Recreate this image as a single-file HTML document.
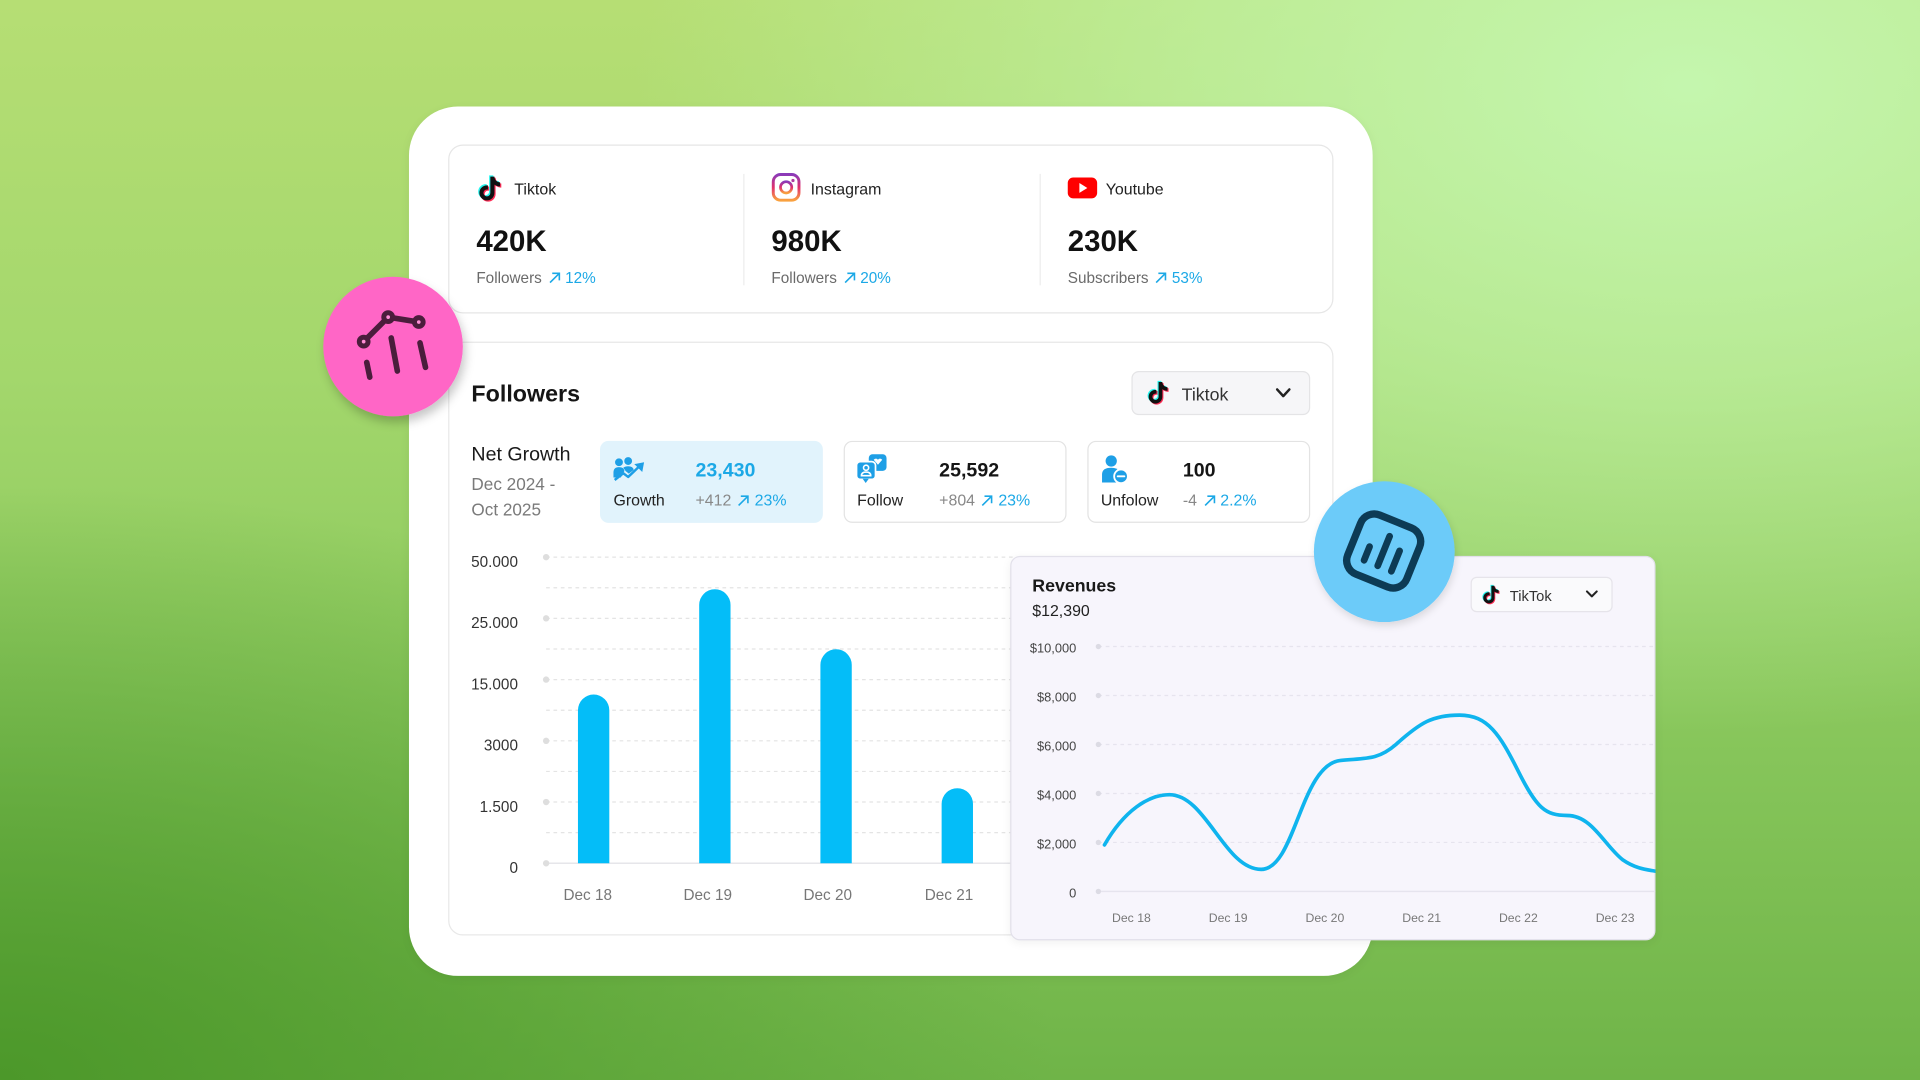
<!DOCTYPE html>
<html><head><meta charset="utf-8">
<style>
html,body{margin:0;padding:0;width:1920px;height:1080px;overflow:hidden}
body{background:
 radial-gradient(ellipse 55% 60% at 88% 8%, rgba(196,246,174,1) 0%, rgba(196,246,174,0.6) 45%, rgba(196,246,174,0) 100%),
 radial-gradient(ellipse 55% 55% at 0% 100%, rgba(76,152,42,1) 0%, rgba(76,152,42,0.5) 50%, rgba(76,152,42,0) 100%),
 linear-gradient(180deg,#b6de74 0%,#a3d76c 35%,#86c55a 70%,#6fb448 100%);}
#s{position:absolute;left:0;top:0;width:1568px;height:882px;transform:scale(1.2244898);transform-origin:0 0;font-family:"Liberation Sans","DejaVu Sans",sans-serif;}
.a{position:absolute;box-sizing:border-box}
.t{position:absolute;white-space:nowrap;line-height:20px;height:20px;margin-top:1.5px}
.g{color:#6a6a6a}
.b{color:#1ba8e6}
.ar{display:inline-block;vertical-align:-1px;margin:0 4px 0 5px}
svg.l{position:absolute;left:0;top:0;overflow:visible}
</style></head><body><div id="s">

<!-- outer card -->
<div class="a" style="left:334px;top:87px;width:787px;height:710px;background:#fff;border-radius:40px;box-shadow:0 2px 8px rgba(0,0,0,.05)"></div>

<!-- stats card -->
<div class="a" style="left:366px;top:118px;width:723px;height:138px;border:1px solid #e6e6e6;border-radius:12px;background:#fff"></div>
<div class="a" style="left:607px;top:142px;width:1px;height:91px;background:#ececec"></div>
<div class="a" style="left:849px;top:142px;width:1px;height:91px;background:#ececec"></div>

<svg class="l" width="1568" height="882" viewBox="0 0 1568 882">
 <g transform="translate(387,141) scale(1.08)">
  <path transform="translate(-0.9,-0.9)" fill="#25f4ee" d="M16.6 5.82s.51.5 0 0A4.28 4.28 0 0 1 15.54 3h-3.09v12.4a2.59 2.59 0 0 1-2.59 2.5c-1.42 0-2.6-1.16-2.6-2.6 0-1.72 1.66-3.01 3.37-2.48V9.66c-3.45-.46-6.47 2.22-6.47 5.64 0 3.330 2.76 5.7 5.69 5.7 3.14 0 5.69-2.55 5.69-5.7V9.01a7.35 7.35 0 0 0 4.3 1.38V7.3s-1.88.09-3.24-1.48z"/>
  <path transform="translate(0.9,0.9)" fill="#fe2c55" d="M16.6 5.82s.51.5 0 0A4.28 4.28 0 0 1 15.54 3h-3.09v12.4a2.59 2.59 0 0 1-2.59 2.5c-1.42 0-2.6-1.16-2.6-2.6 0-1.72 1.66-3.01 3.37-2.48V9.66c-3.45-.46-6.47 2.22-6.47 5.64 0 3.33 2.76 5.7 5.69 5.7 3.14 0 5.69-2.55 5.69-5.7V9.01a7.35 7.35 0 0 0 4.3 1.38V7.3s-1.88.09-3.24-1.48z"/>
  <path fill="#111" d="M16.6 5.82s.51.5 0 0A4.28 4.28 0 0 1 15.54 3h-3.09v12.4a2.59 2.59 0 0 1-2.59 2.5c-1.42 0-2.6-1.16-2.6-2.6 0-1.72 1.66-3.01 3.37-2.48V9.66c-3.45-.46-6.47 2.22-6.47 5.64 0 3.33 2.76 5.7 5.69 5.7 3.14 0 5.69-2.55 5.69-5.7V9.01a7.35 7.35 0 0 0 4.3 1.38V7.3s-1.88.09-3.24-1.48z"/>
 </g>
 <defs><linearGradient id="ig" x1="0" y1="0" x2="0" y2="1"><stop offset="0" stop-color="#8a3ab9"/><stop offset="0.5" stop-color="#e1306c"/><stop offset="1" stop-color="#f9a13f"/></linearGradient></defs>
 <rect x="631.5" y="142.5" width="21" height="21" rx="6" fill="none" stroke="url(#ig)" stroke-width="2.4"/>
 <circle cx="642" cy="153" r="4.6" fill="none" stroke="url(#ig)" stroke-width="2.2"/>
 <circle cx="647.6" cy="147.4" r="1.3" fill="#b03aa0"/>
 <rect x="872" y="145" width="24" height="17" rx="4.5" fill="#ff0000"/>
 <path d="M881.5 149.5 L888 153.5 L881.5 157.5 Z" fill="#fff"/>
</svg>

<div class="t" style="left:420px;top:143px;font-size:13px;color:#222">Tiktok</div>
<div class="t" style="left:662px;top:143px;font-size:13px;color:#222">Instagram</div>
<div class="t" style="left:903px;top:143px;font-size:13px;color:#222">Youtube</div>
<div class="t" style="left:389px;top:186px;font-size:24px;font-weight:bold;color:#111">420K</div>
<div class="t" style="left:630px;top:186px;font-size:24px;font-weight:bold;color:#111">980K</div>
<div class="t" style="left:872px;top:186px;font-size:24px;font-weight:bold;color:#111">230K</div>
<div class="t g" style="left:389px;top:215px;font-size:12.5px">Followers<svg class="ar" width="10" height="10" viewBox="0 0 10 10"><path d="M1.2 8.8 L8.6 1.4 M3 1.2 H8.8 V7" stroke="#1ba8e6" stroke-width="1.3" fill="none"/></svg><span class="b">12%</span></div>
<div class="t g" style="left:630px;top:215px;font-size:12.5px">Followers<svg class="ar" width="10" height="10" viewBox="0 0 10 10"><path d="M1.2 8.8 L8.6 1.4 M3 1.2 H8.8 V7" stroke="#1ba8e6" stroke-width="1.3" fill="none"/></svg><span class="b">20%</span></div>
<div class="t g" style="left:872px;top:215px;font-size:12.5px">Subscribers<svg class="ar" width="10" height="10" viewBox="0 0 10 10"><path d="M1.2 8.8 L8.6 1.4 M3 1.2 H8.8 V7" stroke="#1ba8e6" stroke-width="1.3" fill="none"/></svg><span class="b">53%</span></div>

<!-- followers card -->
<div class="a" style="left:366px;top:279px;width:723px;height:485px;border:1px solid #e8e8e8;border-radius:12px;background:#fff"></div>
<div class="t" style="left:385px;top:311px;font-size:19px;font-weight:bold;color:#151515">Followers</div>
<div class="a" style="left:924px;top:303px;width:146px;height:36px;background:#f6f6f8;border:1px solid #e4e4e6;border-radius:6px"></div>
<div class="t" style="left:965px;top:311px;font-size:14.5px;color:#333">Tiktok</div>

<div class="t" style="left:385px;top:360px;font-size:16px;color:#1a1a1a">Net Growth</div>
<div class="t" style="left:385px;top:383px;font-size:14px;color:#7a7a7a">Dec 2024 -</div>
<div class="t" style="left:385px;top:404px;font-size:14px;color:#7a7a7a">Oct 2025</div>

<div class="a" style="left:490px;top:360px;width:182px;height:67px;background:#e1f3fc;border-radius:7px"></div>
<div class="a" style="left:689px;top:360px;width:182px;height:67px;border:1px solid #e3e3e3;border-radius:7px;background:#fff"></div>
<div class="a" style="left:888px;top:360px;width:182px;height:67px;border:1px solid #e3e3e3;border-radius:7px;background:#fff"></div>

<div class="t" style="left:568px;top:373px;font-size:16px;font-weight:bold;color:#1ba8e6">23,430</div>
<div class="t" style="left:767px;top:373px;font-size:16px;font-weight:bold;color:#151515">25,592</div>
<div class="t" style="left:966px;top:373px;font-size:16px;font-weight:bold;color:#151515">100</div>
<div class="t" style="left:501px;top:397px;font-size:13px;color:#222">Growth</div>
<div class="t" style="left:700px;top:397px;font-size:13px;color:#222">Follow</div>
<div class="t" style="left:899px;top:397px;font-size:13px;color:#222">Unfolow</div>
<div class="t" style="left:568px;top:397px;font-size:13px;color:#888">+412<svg class="ar" width="10" height="10" viewBox="0 0 10 10"><path d="M1.2 8.8 L8.6 1.4 M3 1.2 H8.8 V7" stroke="#1ba8e6" stroke-width="1.3" fill="none"/></svg><span class="b">23%</span></div>
<div class="t" style="left:767px;top:397px;font-size:13px;color:#888">+804<svg class="ar" width="10" height="10" viewBox="0 0 10 10"><path d="M1.2 8.8 L8.6 1.4 M3 1.2 H8.8 V7" stroke="#1ba8e6" stroke-width="1.3" fill="none"/></svg><span class="b">23%</span></div>
<div class="t" style="left:966px;top:397px;font-size:13px;color:#888">-4<svg class="ar" width="10" height="10" viewBox="0 0 10 10"><path d="M1.2 8.8 L8.6 1.4 M3 1.2 H8.8 V7" stroke="#1ba8e6" stroke-width="1.3" fill="none"/></svg><span class="b">2.2%</span></div>

<!-- bar chart labels -->
<div class="t" style="left:363px;width:60px;text-align:right;top:447px;font-size:12.5px;color:#333">50.000</div>
<div class="t" style="left:363px;width:60px;text-align:right;top:497px;font-size:12.5px;color:#333">25.000</div>
<div class="t" style="left:363px;width:60px;text-align:right;top:547px;font-size:12.5px;color:#333">15.000</div>
<div class="t" style="left:363px;width:60px;text-align:right;top:597px;font-size:12.5px;color:#333">3000</div>
<div class="t" style="left:363px;width:60px;text-align:right;top:647px;font-size:12.5px;color:#333">1.500</div>
<div class="t" style="left:363px;width:60px;text-align:right;top:697px;font-size:12.5px;color:#333">0</div>
<div class="t" style="left:450px;width:60px;text-align:center;top:719px;font-size:12.5px;color:#777">Dec 18</div>
<div class="t" style="left:548px;width:60px;text-align:center;top:719px;font-size:12.5px;color:#777">Dec 19</div>
<div class="t" style="left:646px;width:60px;text-align:center;top:719px;font-size:12.5px;color:#777">Dec 20</div>
<div class="t" style="left:745px;width:60px;text-align:center;top:719px;font-size:12.5px;color:#777">Dec 21</div>

<svg class="l" width="1568" height="882" viewBox="0 0 1568 882">
 <g transform="translate(934,309) scale(0.98)">
  <path transform="translate(-0.9,-0.9)" fill="#25f4ee" d="M16.6 5.82s.51.5 0 0A4.28 4.28 0 0 1 15.54 3h-3.09v12.4a2.59 2.59 0 0 1-2.59 2.5c-1.42 0-2.6-1.16-2.6-2.6 0-1.72 1.66-3.01 3.37-2.48V9.66c-3.45-.46-6.47 2.22-6.47 5.64 0 3.33 2.76 5.7 5.69 5.7 3.14 0 5.69-2.55 5.69-5.7V9.01a7.35 7.35 0 0 0 4.3 1.38V7.3s-1.88.09-3.24-1.48z"/>
  <path transform="translate(0.9,0.9)" fill="#fe2c55" d="M16.6 5.82s.51.5 0 0A4.28 4.28 0 0 1 15.54 3h-3.09v12.4a2.59 2.59 0 0 1-2.59 2.5c-1.42 0-2.6-1.16-2.6-2.6 0-1.72 1.66-3.01 3.37-2.48V9.66c-3.45-.46-6.47 2.22-6.47 5.64 0 3.33 2.76 5.7 5.69 5.7 3.14 0 5.69-2.55 5.69-5.7V9.01a7.35 7.35 0 0 0 4.3 1.38V7.3s-1.88.09-3.24-1.48z"/>
  <path fill="#111" d="M16.6 5.82s.51.5 0 0A4.28 4.28 0 0 1 15.54 3h-3.09v12.4a2.59 2.59 0 0 1-2.59 2.5c-1.42 0-2.6-1.16-2.6-2.6 0-1.72 1.66-3.01 3.37-2.48V9.66c-3.45-.46-6.47 2.22-6.47 5.64 0 3.33 2.76 5.7 5.69 5.7 3.14 0 5.69-2.55 5.69-5.7V9.01a7.35 7.35 0 0 0 4.3 1.38V7.3s-1.88.09-3.24-1.48z"/>
 </g>
 <polyline points="1043,318 1048,323.5 1053,318" fill="none" stroke="#222" stroke-width="2" stroke-linecap="round" stroke-linejoin="round"/>

 <!-- growth icon -->
 <g fill="#1e9fe6">
  <circle cx="505.5" cy="377.5" r="3.2"/>
  <circle cx="513" cy="376.5" r="3.2"/>
  <path d="M501 390 v-4 q0-4.5 4.5-4.5 q4 0 4.5 3 l-3 5.5 z"/>
  <path d="M509 382 q1.5-1.2 4-1.2 q4 0 4.5 3 l-4 3 -2.5-2 z"/>
  <polyline points="502,392 509,386.5 513,389.5 522,381" fill="none" stroke="#1e9fe6" stroke-width="2" stroke-linejoin="round"/>
  <path d="M518 379 L526 377.5 L524.5 385.5 Z"/>
 </g>
 <!-- follow icon -->
 <g>
  <rect x="709.5" y="371" width="14.5" height="13.5" rx="3" fill="#1e9fe6"/>
  <path d="M713.5 375.5 q2 -2 3.5 0 q1.5 -2 3.5 0 l-3.5 4 z" fill="#fff"/>
  <rect x="699.5" y="377" width="15.5" height="14.5" rx="3" fill="#1e9fe6" stroke="#fff" stroke-width="1.4"/>
  <path d="M704.5 391 L709.5 391 L707 394.5 Z" fill="#1e9fe6"/>
  <circle cx="707.3" cy="382" r="2.1" fill="none" stroke="#fff" stroke-width="1.3"/>
  <path d="M703.5 388.5 q0-3 3.8-3 q3.8 0 3.8 3 z" fill="none" stroke="#fff" stroke-width="1.3"/>
 </g>
 <!-- unfollow icon -->
 <g fill="#1e9fe6">
  <circle cx="907.5" cy="376.5" r="4.6"/>
  <path d="M900 394 v-6.5 q0-5.5 7.5-5.5 q5 0 6.5 3 v9 z"/>
  <circle cx="915.5" cy="389" r="5.6" stroke="#fff" stroke-width="1.5"/>
  <line x1="912.8" y1="389" x2="918.2" y2="389" stroke="#fff" stroke-width="1.6" stroke-linecap="round"/>
 </g>

 <!-- bar chart grid -->
 <g stroke="#e4e4e4" stroke-width="1" stroke-dasharray="3 3">
  <line x1="446" y1="455" x2="1075" y2="455"/>
  <line x1="446" y1="480" x2="1075" y2="480"/>
  <line x1="446" y1="505" x2="1075" y2="505"/>
  <line x1="446" y1="530" x2="1075" y2="530"/>
  <line x1="446" y1="555" x2="1075" y2="555"/>
  <line x1="446" y1="580" x2="1075" y2="580"/>
  <line x1="446" y1="605" x2="1075" y2="605"/>
  <line x1="446" y1="630" x2="1075" y2="630"/>
  <line x1="446" y1="655" x2="1075" y2="655"/>
  <line x1="446" y1="680" x2="1075" y2="680"/>
 </g>
 <line x1="446" y1="705" x2="1075" y2="705" stroke="#e6e6ea" stroke-width="1.2"/>
 <g fill="#dedede">
  <circle cx="446" cy="455" r="2.6"/><circle cx="446" cy="505" r="2.6"/><circle cx="446" cy="555" r="2.6"/>
  <circle cx="446" cy="605" r="2.6"/><circle cx="446" cy="655" r="2.6"/><circle cx="446" cy="705" r="2.6"/>
 </g>
 <g fill="#04bdf8">
  <path d="M472 705 V580 A12.8 12.8 0 0 1 497.6 580 V705 Z"/>
  <path d="M571 705 V494 A12.8 12.8 0 0 1 596.6 494 V705 Z"/>
  <path d="M670 705 V543 A12.8 12.8 0 0 1 695.6 543 V705 Z"/>
  <path d="M769 705 V656.5 A12.8 12.8 0 0 1 794.6 656.5 V705 Z"/>
 </g>

 <!-- pink circle -->
 <defs><filter id="sh" x="-30%" y="-30%" width="160%" height="160%"><feDropShadow dx="2" dy="5" stdDeviation="4" flood-color="#000" flood-opacity="0.22"/></filter>
 <filter id="sh2" x="-30%" y="-30%" width="160%" height="160%"><feDropShadow dx="1" dy="3" stdDeviation="3" flood-color="#000" flood-opacity="0.12"/></filter></defs>
 <circle cx="321" cy="283" r="57" fill="#ff66c6" filter="url(#sh)"/>
 <g stroke="#4b1d3c" stroke-width="4.6" stroke-linecap="round" fill="none">
  <line x1="297" y1="279" x2="317" y2="259"/>
  <line x1="317" y1="259" x2="342" y2="263"/>
  <line x1="299.5" y1="296" x2="302" y2="308"/>
  <line x1="319.5" y1="276" x2="324.5" y2="303"/>
  <line x1="343" y1="280" x2="347.5" y2="300"/>
 </g>
 <g fill="#4b1d3c">
  <circle cx="297" cy="279" r="5.6"/><circle cx="317" cy="259" r="5.6"/><circle cx="342" cy="263" r="5.6"/>
 </g>
 <g fill="#ff8fd6">
  <circle cx="297" cy="279" r="1.5"/><circle cx="317" cy="259" r="1.5"/><circle cx="342" cy="263" r="1.5"/>
 </g>
</svg>

<!-- revenue card -->
<div class="a" style="left:825px;top:454px;width:527px;height:314px;background:#f7f5fc;border:1px solid #e2e0ea;border-radius:8px;box-shadow:0 2px 8px rgba(0,0,0,.06)"></div>
<div class="t" style="left:843px;top:467px;font-size:14.5px;font-weight:bold;color:#1a1a1a">Revenues</div>
<div class="t" style="left:843px;top:487px;font-size:13px;color:#222">$12,390</div>
<div class="a" style="left:1201px;top:471px;width:116px;height:29px;background:#fafafc;border:1px solid #e6e4ea;border-radius:5px"></div>
<div class="t" style="left:1233px;top:475px;font-size:12px;color:#333">TikTok</div>

<div class="t" style="left:818px;width:61px;text-align:right;top:518px;font-size:10.5px;color:#444">$10,000</div>
<div class="t" style="left:818px;width:61px;text-align:right;top:558px;font-size:10.5px;color:#444">$8,000</div>
<div class="t" style="left:818px;width:61px;text-align:right;top:598px;font-size:10.5px;color:#444">$6,000</div>
<div class="t" style="left:818px;width:61px;text-align:right;top:638px;font-size:10.5px;color:#444">$4,000</div>
<div class="t" style="left:818px;width:61px;text-align:right;top:678px;font-size:10.5px;color:#444">$2,000</div>
<div class="t" style="left:818px;width:61px;text-align:right;top:718px;font-size:10.5px;color:#444">0</div>
<div class="t" style="left:899px;width:50px;text-align:center;top:739px;font-size:10px;color:#777">Dec 18</div>
<div class="t" style="left:978px;width:50px;text-align:center;top:739px;font-size:10px;color:#777">Dec 19</div>
<div class="t" style="left:1057px;width:50px;text-align:center;top:739px;font-size:10px;color:#777">Dec 20</div>
<div class="t" style="left:1136px;width:50px;text-align:center;top:739px;font-size:10px;color:#777">Dec 21</div>
<div class="t" style="left:1215px;width:50px;text-align:center;top:739px;font-size:10px;color:#777">Dec 22</div>
<div class="t" style="left:1294px;width:50px;text-align:center;top:739px;font-size:10px;color:#777">Dec 23</div>

<svg class="l" width="1568" height="882" viewBox="0 0 1568 882">
 <defs><clipPath id="rc"><rect x="825" y="454" width="527" height="314" rx="8"/></clipPath></defs>
 <g stroke="#e6e4ee" stroke-width="1" stroke-dasharray="3 3">
  <line x1="897" y1="528" x2="1352" y2="528"/>
  <line x1="897" y1="568" x2="1352" y2="568"/>
  <line x1="897" y1="608" x2="1352" y2="608"/>
  <line x1="897" y1="648" x2="1352" y2="648"/>
  <line x1="897" y1="688" x2="1352" y2="688"/>
 </g>
 <line x1="897" y1="728" x2="1352" y2="728" stroke="#e6e4ee" stroke-width="1.2"/>
 <g fill="#dcdbe4">
  <circle cx="897" cy="528" r="2.2"/><circle cx="897" cy="568" r="2.2"/><circle cx="897" cy="608" r="2.2"/>
  <circle cx="897" cy="648" r="2.2"/><circle cx="897" cy="688" r="2.2"/><circle cx="897" cy="728" r="2.2"/>
 </g>
 <path clip-path="url(#rc)" d="M902,690 C918,662 938,649 955,649 C985,649 1000,710 1030,710 C1058,710 1062,624 1095,621 C1115,619 1125,621 1140,608 C1160,590 1170,584 1192,584 C1215,584 1225,600 1240,630 C1255,660 1262,666 1280,666 C1300,666 1310,690 1325,702 C1335,709 1343,710 1355,712" fill="none" stroke="#0fb4ee" stroke-width="3" stroke-linecap="round"/>

 <g transform="translate(1208,476) scale(0.8)">
  <path transform="translate(-0.9,-0.9)" fill="#25f4ee" d="M16.6 5.82s.51.5 0 0A4.28 4.28 0 0 1 15.54 3h-3.09v12.4a2.59 2.59 0 0 1-2.59 2.5c-1.42 0-2.6-1.16-2.6-2.6 0-1.72 1.66-3.01 3.37-2.48V9.66c-3.45-.46-6.47 2.22-6.47 5.64 0 3.33 2.76 5.7 5.69 5.7 3.14 0 5.69-2.55 5.69-5.7V9.01a7.35 7.35 0 0 0 4.3 1.38V7.3s-1.88.09-3.24-1.48z"/>
  <path transform="translate(0.9,0.9)" fill="#fe2c55" d="M16.6 5.82s.51.5 0 0A4.28 4.28 0 0 1 15.54 3h-3.09v12.4a2.59 2.59 0 0 1-2.59 2.5c-1.42 0-2.6-1.16-2.6-2.6 0-1.72 1.66-3.01 3.37-2.48V9.66c-3.45-.46-6.47 2.22-6.47 5.64 0 3.33 2.76 5.7 5.69 5.7 3.14 0 5.69-2.55 5.69-5.7V9.01a7.35 7.35 0 0 0 4.3 1.38V7.3s-1.88.09-3.24-1.48z"/>
  <path fill="#111" d="M16.6 5.82s.51.5 0 0A4.28 4.28 0 0 1 15.54 3h-3.09v12.4a2.59 2.59 0 0 1-2.59 2.5c-1.42 0-2.6-1.16-2.6-2.6 0-1.72 1.66-3.01 3.37-2.48V9.66c-3.45-.46-6.47 2.22-6.47 5.64 0 3.33 2.76 5.7 5.69 5.7 3.14 0 5.69-2.55 5.69-5.7V9.01a7.35 7.35 0 0 0 4.3 1.38V7.3s-1.88.09-3.24-1.48z"/>
 </g>
 <polyline points="1296,483 1300,487 1304,483" fill="none" stroke="#222" stroke-width="1.7" stroke-linecap="round" stroke-linejoin="round"/>

 <!-- blue circle -->
 <circle cx="1130.5" cy="450.5" r="57.5" fill="#6ccbf9" filter="url(#sh2)"/>
 <g transform="rotate(22 1130 450)" stroke="#0d3b55" fill="none" stroke-linecap="round">
  <rect x="1104" y="424" width="52" height="52" rx="12" stroke-width="6"/>
  <line x1="1118" y1="451" x2="1118" y2="463" stroke-width="5.5"/>
  <line x1="1130" y1="437" x2="1130" y2="463" stroke-width="5.5"/>
  <line x1="1142" y1="445" x2="1142" y2="463" stroke-width="5.5"/>
 </g>
</svg>

</div></body></html>
